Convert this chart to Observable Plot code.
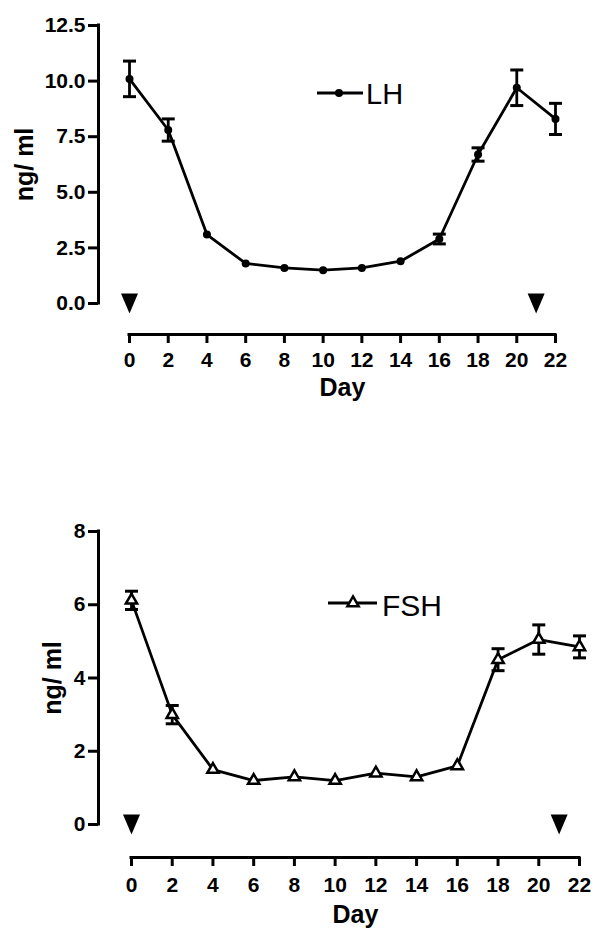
<!DOCTYPE html>
<html><head><meta charset="utf-8">
<script src="https://cdn.jsdelivr.net/npm/d3@7"></script>
<script src="https://cdn.jsdelivr.net/npm/@observablehq/plot@0.6"></script>
<style>
body{margin:0;background:#fff;}
#wrap{position:relative;width:595px;height:932px;overflow:hidden;background:#fff;}
#wrap svg.chart{display:block;}
#overlay{position:absolute;left:0;top:0;pointer-events:none;}
</style></head>
<body><div id="wrap"></div>
<script>
// ---- data ----
const days = [0, 2, 4, 6, 8, 10, 12, 14, 16, 18, 20, 22];
const lhMean = [10.1, 7.8, 3.1, 1.8, 1.6, 1.5, 1.6, 1.9, 2.9, 6.7, 9.7, 8.3];
const lhSem  = [0.8, 0.5, 0, 0, 0, 0, 0, 0, 0.22, 0.3, 0.8, 0.7];
const fshMean = [6.12, 3.0, 1.5, 1.2, 1.3, 1.2, 1.4, 1.3, 1.6, 4.5, 5.05, 4.85];
const fshSem  = [0.25, 0.25, 0, 0, 0, 0, 0, 0, 0, 0.3, 0.4, 0.3];
const xTicks = [0, 2, 4, 6, 8, 10, 12, 14, 16, 18, 20, 22];
const lhTicks = [0, 2.5, 5, 7.5, 10, 12.5];
const fshTicks = [0, 2, 4, 6, 8];
const treatmentDays = [0, 21];
const xLabel = "Day";
const yLabel = "ng/ ml";

const FONT = "'Liberation Sans', Arial, Helvetica, sans-serif";
const TICK_FONT = 21;

const capSymbol = {draw(ctx) { ctx.moveTo(-6.5, 0); ctx.lineTo(6.5, 0); }};
const arrowSymbol = {draw(ctx) { ctx.moveTo(-8.5, -10); ctx.lineTo(8.5, -10); ctx.lineTo(0, 10); ctx.closePath(); }};

function makeChart({mean, sem, yTicks, tickFormat, height, marginTop, marginBottom, marginLeft, marginRight,
                    axisOffset, tickPadding, dayDy, yLabelDx, pointMark}) {
  const data = days.map((d, i) => ({day: d, mean: mean[i], sem: sem[i]}));
  const err = data.filter(d => d.sem > 0);
  const yMax = yTicks[yTicks.length - 1];
  const xMin = xTicks[0], xMax = xTicks[xTicks.length - 1];
  return Plot.plot({
    width: 595, height, marginTop, marginBottom, marginLeft, marginRight,
    x: {domain: [xMin, xMax]},
    y: {domain: [yTicks[0], yMax]},
    style: {fontFamily: FONT, fontSize: TICK_FONT + "px", fontWeight: "bold", color: "black", background: "white", overflow: "visible"},
    marks: [
      Plot.ruleX([xMin], {y1: yTicks[0], y2: yMax, dx: -axisOffset, strokeWidth: 3, strokeLinecap: "square"}),
      Plot.axisY({ticks: yTicks, tickFormat, tickSize: 10, tickPadding: 3, dx: -axisOffset, strokeWidth: 3,
                  fontSize: TICK_FONT, fontWeight: "bold", label: null}),
      Plot.ruleY([yTicks[0]], {x1: xMin, x2: xMax, dy: axisOffset, strokeWidth: 3, strokeLinecap: "square"}),
      Plot.axisX({ticks: xTicks, tickSize: 9, tickPadding, dy: axisOffset, strokeWidth: 3,
                  fontSize: TICK_FONT, fontWeight: "bold", label: null}),
      Plot.text([xLabel], {frameAnchor: "bottom", dy: dayDy, fontSize: 25, fontWeight: "bold", textAnchor: "middle"}),
      Plot.text([yLabel], {frameAnchor: "left", dx: yLabelDx, rotate: -90, fontSize: 25, fontWeight: "bold", textAnchor: "middle"}),
      Plot.dot(treatmentDays, {x: d => d, y: () => yTicks[0], symbol: arrowSymbol, fill: "black", stroke: "none"}),
      Plot.line(data, {x: "day", y: "mean", stroke: "black", strokeWidth: 2.8}),
      Plot.ruleX(err, {x: "day", y1: d => d.mean - d.sem, y2: d => d.mean + d.sem, stroke: "black", strokeWidth: 2.8}),
      Plot.dot(err, {x: "day", y: d => d.mean - d.sem, symbol: capSymbol, fill: "none", stroke: "black", strokeWidth: 3}),
      Plot.dot(err, {x: "day", y: d => d.mean + d.sem, symbol: capSymbol, fill: "none", stroke: "black", strokeWidth: 3}),
      pointMark(data)
    ]
  });
}

const lhChart = makeChart({
  mean: lhMean, sem: lhSem, yTicks: lhTicks, tickFormat: d => d.toFixed(1),
  height: 410, marginTop: 25, marginBottom: 107, marginLeft: 129, marginRight: 40,
  axisOffset: 31, tickPadding: 9, dayDy: 92, yLabelDx: -105,
  pointMark: data => Plot.dot(data, {x: "day", y: "mean", r: 4, fill: "black", stroke: "none"})
});
const fshChart = makeChart({
  mean: fshMean, sem: fshSem, yTicks: fshTicks, tickFormat: d => String(d),
  height: 522, marginTop: 121, marginBottom: 108, marginLeft: 131, marginRight: 16,
  axisOffset: 33, tickPadding: 11, dayDy: 98, yLabelDx: -79,
  pointMark: data => Plot.dot(data, {x: "day", y: "mean", symbol: "triangle", r: 4.2, fill: "white", stroke: "black", strokeWidth: 2.5})
});
lhChart.classList.add("chart");
fshChart.classList.add("chart");
const wrap = document.getElementById("wrap");
wrap.appendChild(lhChart);
wrap.appendChild(fshChart);

// ---- legends (overlay) ----
const ns = "http://www.w3.org/2000/svg";
const ov = document.createElementNS(ns, "svg");
ov.setAttribute("id", "overlay");
ov.setAttribute("width", 595);
ov.setAttribute("height", 932);
function el(tag, attrs, text) {
  const e = document.createElementNS(ns, tag);
  for (const k in attrs) e.setAttribute(k, attrs[k]);
  if (text) e.textContent = text;
  ov.appendChild(e);
  return e;
}
// LH legend
el("line", {x1: 317, y1: 93, x2: 363, y2: 93, stroke: "black", "stroke-width": 2.8});
el("circle", {cx: 339, cy: 93, r: 4, fill: "black"});
el("text", {x: 366, y: 104, "font-family": FONT, "font-size": 29, fill: "black"}, "LH");
// FSH legend
el("line", {x1: 328, y1: 603, x2: 377, y2: 603, stroke: "black", "stroke-width": 2.8});
el("path", {d: d3.symbol(d3.symbolTriangle, Math.PI * 4.2 * 4.2)(), transform: "translate(353,603)", fill: "white", stroke: "black", "stroke-width": 2.5});
el("text", {x: 382, y: 616, "font-family": FONT, "font-size": 30, fill: "black"}, "FSH");
wrap.appendChild(ov);
</script>
</body></html>
